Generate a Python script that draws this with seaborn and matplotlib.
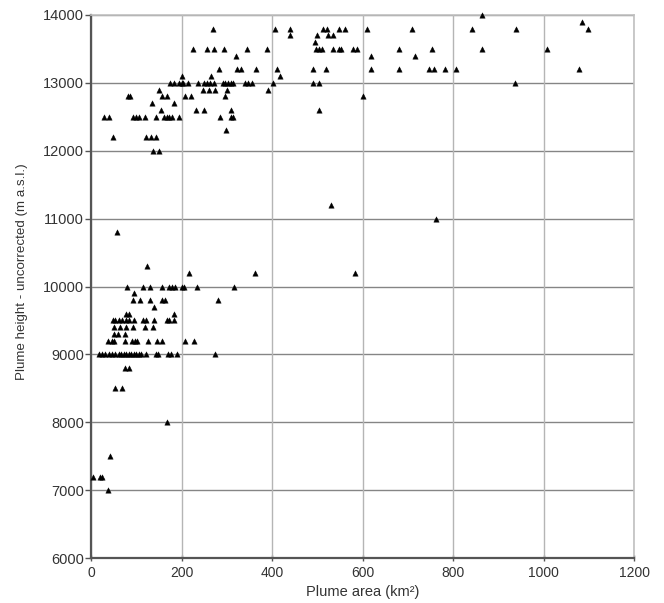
import matplotlib
matplotlib.use("Agg")
import matplotlib.pyplot as plt
import seaborn as sns
import pandas as pd

# Plume heights (m a.s.l.) and the plume areas (km2) observed at each height
row_heights = [14000, 13900, 13800, 13700, 13600, 13500, 13400, 13200, 13100,
               13000, 12900, 12800, 12700, 12600, 12500, 12300, 12200, 12000,
               11200, 11000, 10800, 10300, 10200, 10000, 9900, 9800, 9700,
               9600, 9500, 9400, 9300, 9200, 9000, 8800, 8500, 8000, 7500,
               7200, 7000]
row_areas = [
    [864],
    [1084],
    [269, 406, 440, 513, 521, 547, 562, 611, 709, 842, 939, 1099],
    [440, 499, 523, 534],
    [496],
    [226, 256, 271, 295, 345, 389, 497, 503, 510, 534, 547, 553, 580, 587,
     681, 753, 864, 1008],
    [320, 619, 715],
    [283, 322, 331, 365, 411, 490, 519, 619, 681, 748, 759, 783, 806, 1078],
    [202, 266, 418],
    [174, 183, 195, 200, 204, 215, 236, 250, 256, 264, 272, 291, 296, 302,
     309, 314, 340, 348, 356, 403, 490, 504, 937],
    [150, 247, 261, 275, 300, 392],
    [82, 87, 158, 167, 208, 221, 297, 600],
    [135, 184],
    [155, 232, 250, 309, 503],
    [29, 39, 92, 100, 107, 120, 144, 162, 167, 173, 179, 194, 285, 309, 314],
    [299],
    [48, 121, 132, 144],
    [136, 150],
    [530],
    [762],
    [57],
    [124],
    [217, 363, 584],
    [79, 114, 130, 156, 173, 180, 185, 201, 206, 234, 316],
    [95],
    [93, 109, 131, 158, 164, 280],
    [140],
    [77, 85, 184],
    [48, 54, 62, 68, 77, 85, 96, 116, 121, 140, 167, 173, 184],
    [50, 64, 77, 92, 119, 136],
    [51, 59, 76],
    [37, 46, 51, 76, 90, 98, 102, 127, 145, 157, 207, 228],
    [17, 24, 32, 39, 46, 54, 61, 66, 72, 77, 83, 88, 94, 99, 105, 110, 121,
     143, 149, 170, 177, 189, 275],
    [76, 83],
    [52, 68],
    [167],
    [42],
    [5, 20, 25],
    [38],
]

x_ticks = [0, 200, 400, 600, 800, 1000, 1200]
y_ticks = [6000, 7000, 8000, 9000, 10000, 11000, 12000, 13000, 14000]

records = [(a, h) for h, areas in zip(row_heights, row_areas) for a in areas]
df = pd.DataFrame(records, columns=["area", "height"])

sns.set_theme(style="white")
plt.rcParams["font.family"] = ["Liberation Sans", "DejaVu Sans"]

fig = plt.figure(figsize=(6.64, 6.03), dpi=100)
ax = fig.add_axes([91 / 664, 45 / 603, 543 / 664, 543 / 603])

sns.scatterplot(data=df, x="area", y="height", marker="^", color="black",
                s=15, edgecolor="black", linewidth=0.3, ax=ax, zorder=3,
                clip_on=False)

ax.set_xlim(0, 1200)
ax.set_ylim(6000, 14000)
ax.set_xticks(x_ticks)
ax.set_yticks(y_ticks)

for y in y_ticks:
    ax.axhline(y, color="#858585", lw=1.0, zorder=1)
for x in x_ticks:
    ax.axvline(x, color="#b5b5b5", lw=1.0, zorder=1)

for side in ["top", "right"]:
    ax.spines[side].set_color("#c0c0c0")
    ax.spines[side].set_linewidth(1.2)
for side in ["left", "bottom"]:
    ax.spines[side].set_color("#555555")
    ax.spines[side].set_linewidth(1.6)

ax.tick_params(axis="y", direction="out", length=4, width=1, color="#555555",
               labelsize=10.5, labelcolor="#333333", pad=1, left=True)
ax.tick_params(axis="x", direction="inout", length=4, width=1, color="#555555",
               labelsize=10, labelcolor="#333333", pad=4, bottom=True)

ax.set_xlabel("Plume area (km\u00b2)", fontsize=10.5, color="#333333")
ax.set_ylabel("Plume height - uncorrected (m a.s.l.)", fontsize=9.6,
              color="#333333")
ax.xaxis.set_label_coords(0.5, -0.063, transform=ax.transAxes)
ax.yaxis.set_label_coords(-0.127, 0.527, transform=ax.transAxes)
ax.xaxis.label.set_va("center")
ax.yaxis.label.set_va("center")

fig.savefig("out.png", dpi=100, facecolor="white")
